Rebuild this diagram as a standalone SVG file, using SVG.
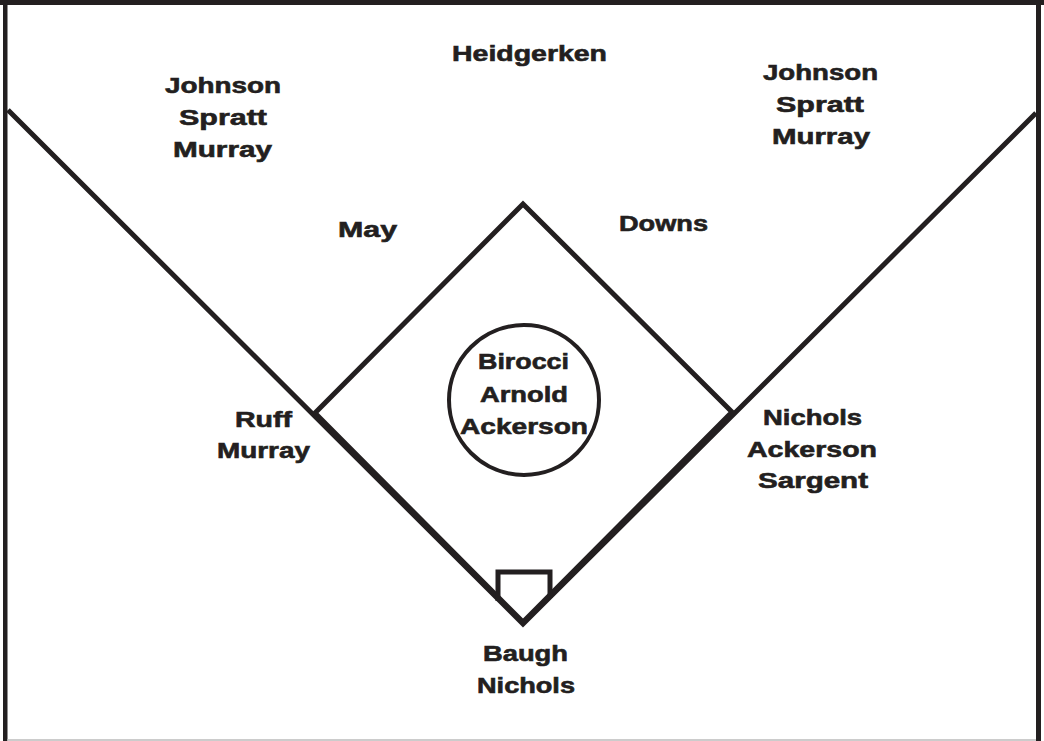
<svg xmlns="http://www.w3.org/2000/svg" width="1044" height="741" viewBox="0 0 1044 741">
<style>
.ln{fill:none;stroke:#231f20;stroke-width:5;stroke-linejoin:miter}
.t{font-family:"Liberation Sans",Arial,sans-serif;font-weight:bold;font-size:22px;fill:#231f20;stroke:#231f20;stroke-width:0.6;text-anchor:middle}
</style>
<rect width="1044" height="741" fill="#fff"/>
<g id="frame">
<rect x="0" y="0" width="1044" height="5" fill="#231f20"/>
<rect x="3" y="0" width="4.5" height="741" fill="#231f20"/>
<rect x="1036" y="0" width="5" height="741" fill="#231f20"/>
<line x1="7" y1="740" x2="1036" y2="740" stroke="#bbb" stroke-width="1.5"/>
</g>
<g id="connectors">
<polyline class="ln" points="8,110 523,624 1036,113"/>
<polygon class="ln" points="523,204 732,412 523,622 315,413"/>
<polyline class="ln" stroke-width="4" points="498,601 498,572 550,572 550,598"/>
</g>
<g id="mound">
<circle cx="524" cy="400" r="75" fill="none" stroke="#231f20" stroke-width="4"/>
<text class="t" x="523.5" y="369" textLength="91" lengthAdjust="spacingAndGlyphs">Birocci</text>
<text class="t" x="524" y="402" textLength="88" lengthAdjust="spacingAndGlyphs">Arnold</text>
<text class="t" x="524" y="434" textLength="128" lengthAdjust="spacingAndGlyphs">Ackerson</text>
</g>
<g id="cf">
<text class="t" x="529.5" y="61" textLength="155" lengthAdjust="spacingAndGlyphs">Heidgerken</text>
</g>
<g id="lf">
<text class="t" x="223" y="93" textLength="116" lengthAdjust="spacingAndGlyphs">Johnson</text>
<text class="t" x="223" y="125" textLength="88" lengthAdjust="spacingAndGlyphs">Spratt</text>
<text class="t" x="222.5" y="157" textLength="99" lengthAdjust="spacingAndGlyphs">Murray</text>
</g>
<g id="rf">
<text class="t" x="820.5" y="80" textLength="115" lengthAdjust="spacingAndGlyphs">Johnson</text>
<text class="t" x="820" y="112" textLength="88" lengthAdjust="spacingAndGlyphs">Spratt</text>
<text class="t" x="821" y="144" textLength="98" lengthAdjust="spacingAndGlyphs">Murray</text>
</g>
<g id="ss">
<text class="t" x="367.5" y="237" textLength="59" lengthAdjust="spacingAndGlyphs">May</text>
</g>
<g id="second">
<text class="t" x="663.5" y="231" textLength="89" lengthAdjust="spacingAndGlyphs">Downs</text>
</g>
<g id="third">
<text class="t" x="263.5" y="427" textLength="57" lengthAdjust="spacingAndGlyphs">Ruff</text>
<text class="t" x="263.5" y="458" textLength="93" lengthAdjust="spacingAndGlyphs">Murray</text>
</g>
<g id="first">
<text class="t" x="812.5" y="425" textLength="99" lengthAdjust="spacingAndGlyphs">Nichols</text>
<text class="t" x="812" y="457" textLength="130" lengthAdjust="spacingAndGlyphs">Ackerson</text>
<text class="t" x="813" y="488" textLength="110" lengthAdjust="spacingAndGlyphs">Sargent</text>
</g>
<g id="catcher">
<text class="t" x="525.5" y="661" textLength="85" lengthAdjust="spacingAndGlyphs">Baugh</text>
<text class="t" x="526" y="693" textLength="98" lengthAdjust="spacingAndGlyphs">Nichols</text>
</g>
</svg>
